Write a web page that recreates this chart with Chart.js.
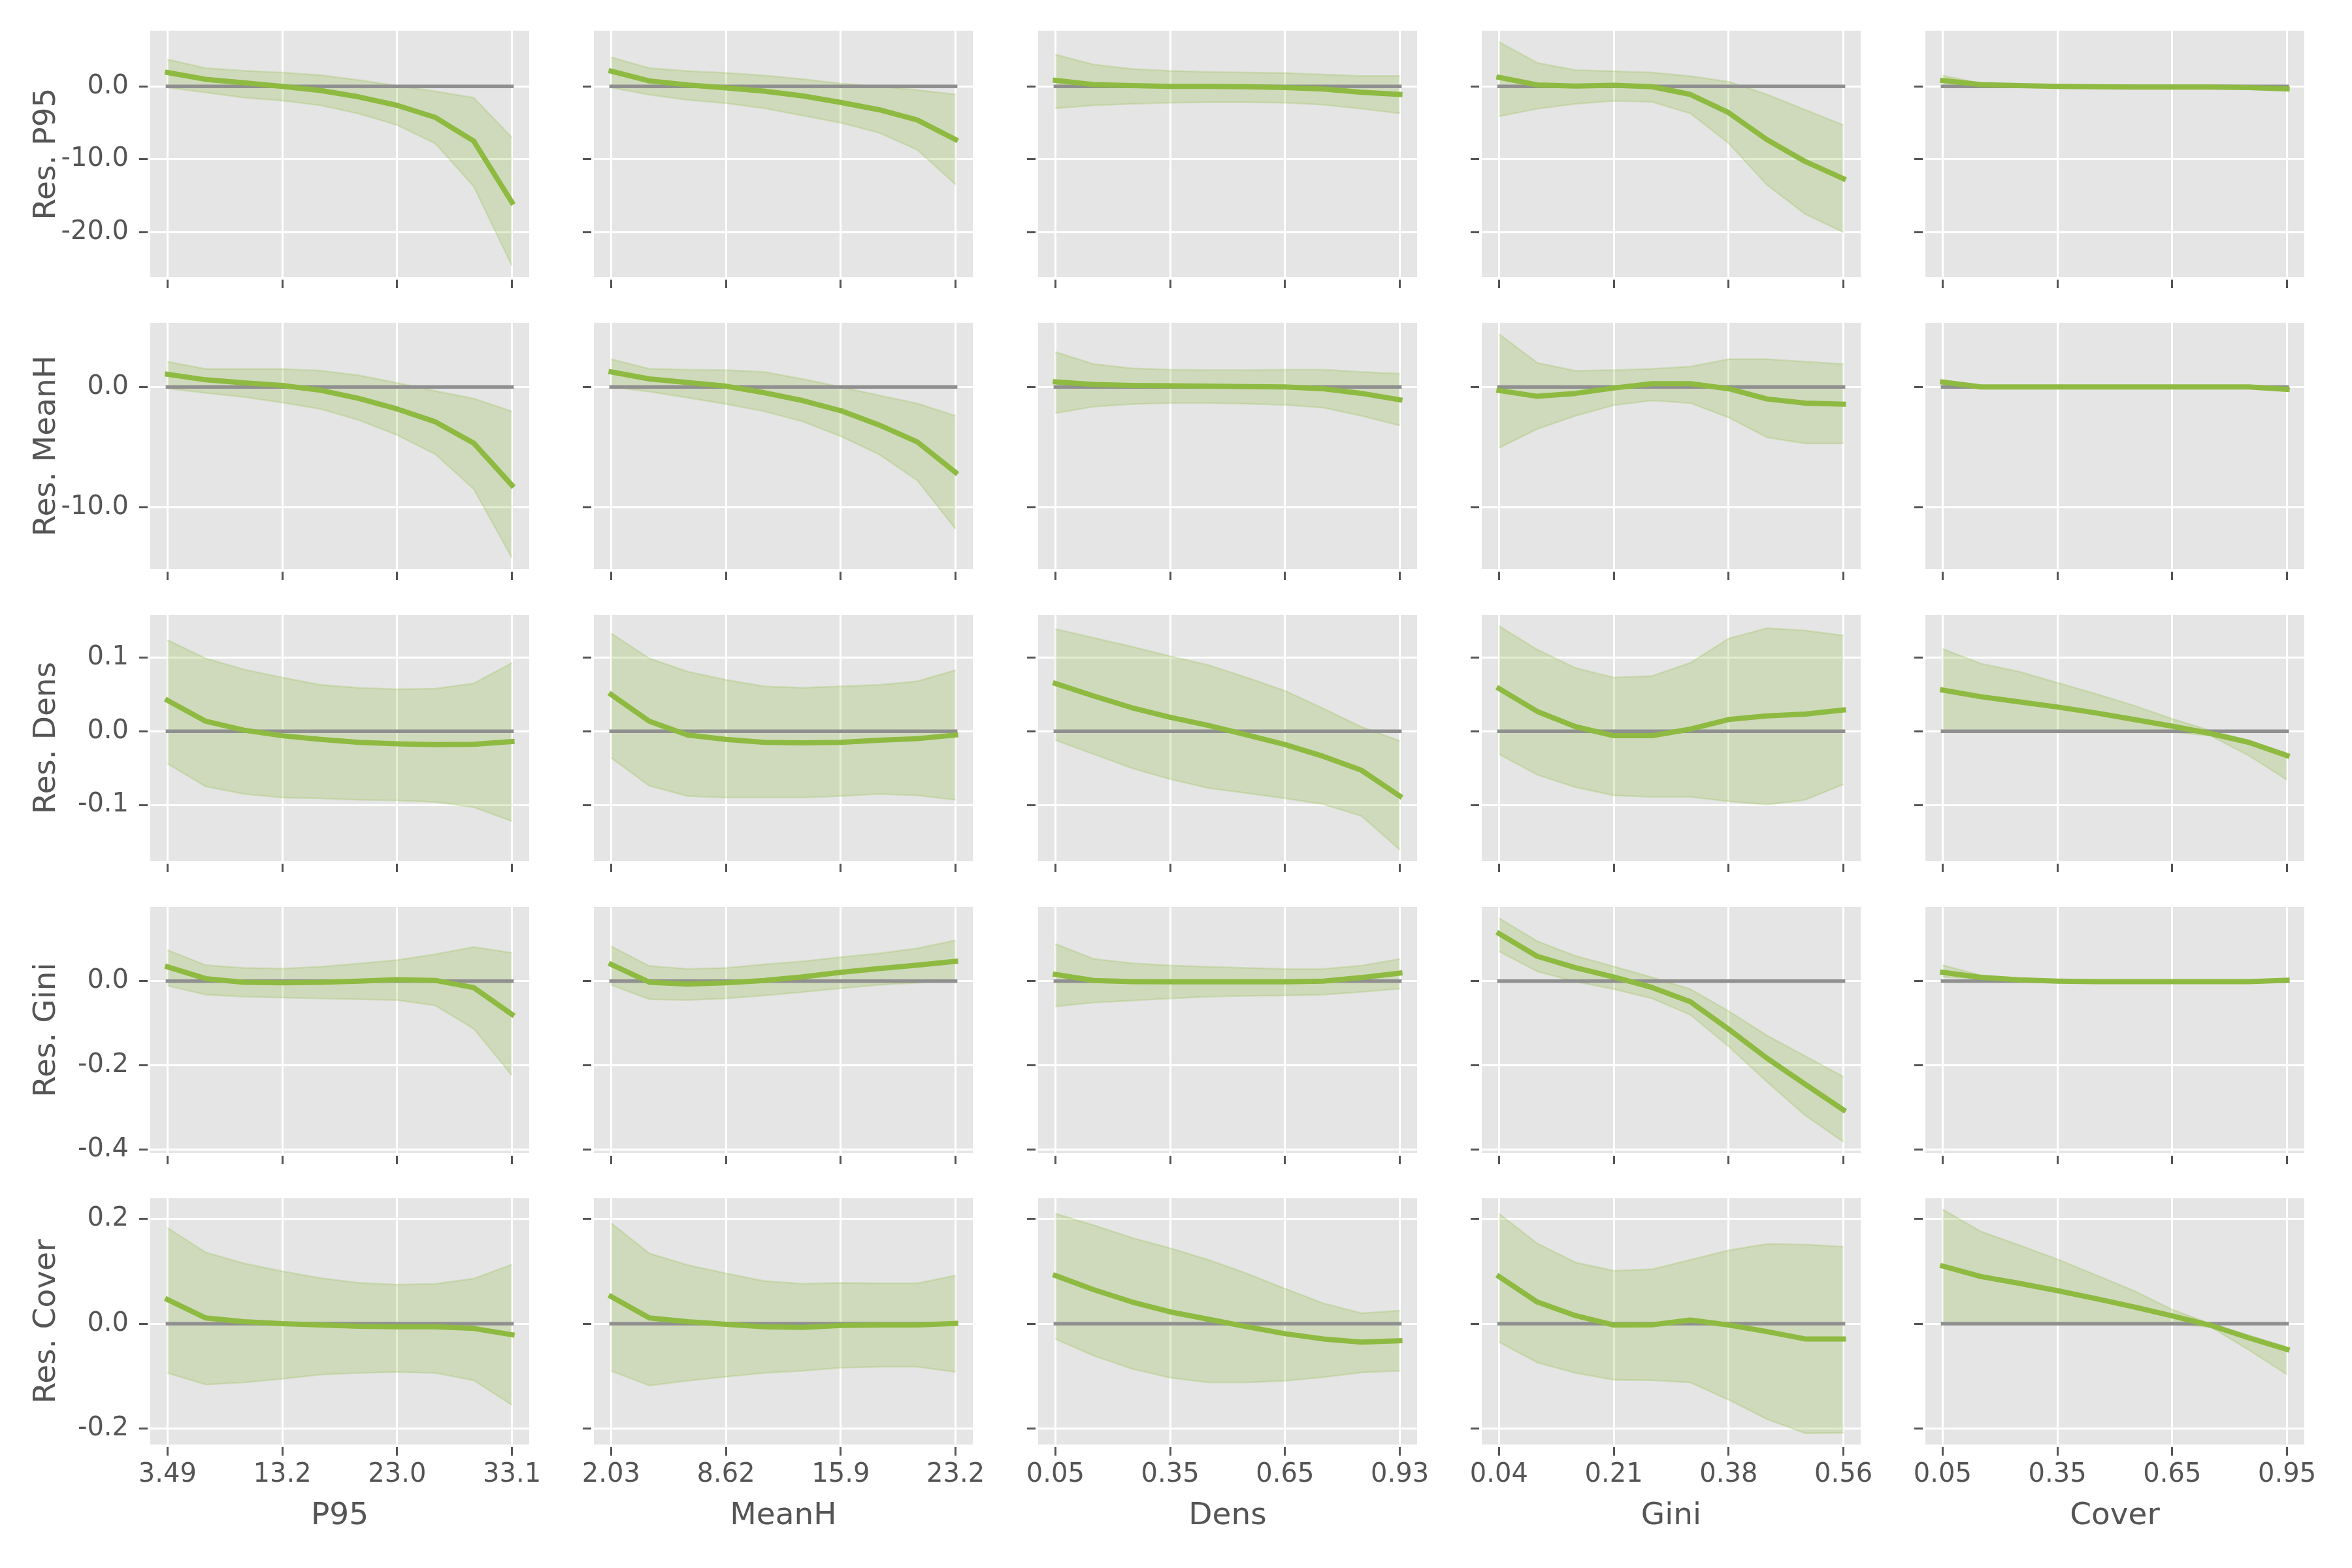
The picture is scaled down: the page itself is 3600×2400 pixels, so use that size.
<!DOCTYPE html>
<html>
<head>
<meta charset="utf-8">
<script src="https://cdn.jsdelivr.net/npm/chart.js@4.4.1/dist/chart.umd.min.js"></script>
<style>
html, body { margin: 0; padding: 0; background: #ffffff; }
#wrap { position: relative; width: 3600px; height: 2400px; overflow: hidden; background: #ffffff; }
#wrap canvas { position: absolute; }
</style>
</head>
<body>
<div id="wrap"></div>
<script>
// ---------- labels ----------
const predictors = ["P95", "MeanH", "Dens", "Gini", "Cover"];
const responses = ["Res. P95", "Res. MeanH", "Res. Dens", "Res. Gini", "Res. Cover"];
const xTickIndex = [0, 3, 6, 9];
const xTickLabels = [
  ["3.49", "13.2", "23.0", "33.1"],
  ["2.03", "8.62", "15.9", "23.2"],
  ["0.05", "0.35", "0.65", "0.93"],
  ["0.04", "0.21", "0.38", "0.56"],
  ["0.05", "0.35", "0.65", "0.95"]
];
const yTickValues = [[0, -10, -20], [0, -10], [0.1, 0, -0.1], [0, -0.2, -0.4], [0.2, 0, -0.2]];
const yTickLabels = [["0.0", "-10.0", "-20.0"], ["0.0", "-10.0"], ["0.1", "0.0", "-0.1"], ["0.0", "-0.2", "-0.4"], ["0.2", "0.0", "-0.2"]];

// ---------- data (one sub-array per predictor: P95, MeanH, Dens, Gini, Cover) ----------
const resP95Mean = [
  [1.9, 0.97, 0.5, 0.0, -0.56, -1.44, -2.6, -4.26, -7.5, -15.9],
  [2.1, 0.75, 0.2, -0.2, -0.65, -1.3, -2.2, -3.2, -4.6, -7.3],
  [0.84, 0.25, 0.1, 0.0, 0.0, -0.05, -0.15, -0.35, -0.8, -1.1],
  [1.24, 0.2, 0.05, 0.15, -0.05, -1.1, -3.6, -7.3, -10.3, -12.65],
  [0.8, 0.25, 0.1, 0.0, -0.05, -0.1, -0.1, -0.1, -0.15, -0.35]
];
const resP95Upper = [
  [3.7, 2.5, 2.15, 1.9, 1.54, 0.87, 0.1, -0.67, -1.54, -7.0],
  [4.0, 2.5, 2.1, 1.85, 1.5, 1.0, 0.4, 0.0, -0.5, -1.1],
  [4.37, 3.0, 2.4, 2.13, 2.0, 1.9, 1.84, 1.64, 1.44, 1.44],
  [6.1, 3.23, 2.23, 2.08, 1.9, 1.4, 0.65, -1.1, -3.2, -5.3],
  [1.5, 0.4, 0.2, 0.1, 0.05, 0.0, 0.0, 0.0, 0.0, -0.1]
];
const resP95Lower = [
  [-0.15, -0.82, -1.54, -1.95, -2.6, -3.74, -5.3, -7.85, -13.7, -24.6],
  [-0.15, -1.15, -1.85, -2.3, -3.0, -4.0, -5.0, -6.35, -8.7, -13.45],
  [-3.0, -2.6, -2.4, -2.23, -2.18, -2.18, -2.23, -2.5, -3.08, -3.7],
  [-4.1, -3.08, -2.4, -2.0, -2.13, -3.7, -7.8, -13.5, -17.5, -20.0],
  [0.1, 0.05, -0.05, -0.1, -0.15, -0.2, -0.2, -0.2, -0.25, -0.55]
];

const resMeanHMean = [
  [1.05, 0.59, 0.34, 0.12, -0.28, -0.96, -1.83, -2.9, -4.67, -8.17],
  [1.25, 0.66, 0.36, 0.06, -0.48, -1.13, -1.97, -3.16, -4.57, -7.1],
  [0.42, 0.2, 0.12, 0.09, 0.06, 0.03, 0.0, -0.15, -0.54, -1.07],
  [-0.3, -0.78, -0.54, -0.09, 0.27, 0.27, -0.15, -1.0, -1.34, -1.43],
  [0.4, 0.0, 0.0, 0.0, 0.0, 0.0, 0.0, 0.0, 0.0, -0.2]
];
const resMeanHUpper = [
  [2.1, 1.49, 1.49, 1.49, 1.36, 0.96, 0.34, -0.34, -0.96, -2.04],
  [2.3, 1.5, 1.43, 1.4, 1.25, 0.66, 0.0, -0.7, -1.37, -2.4],
  [2.9, 1.9, 1.55, 1.43, 1.4, 1.4, 1.43, 1.43, 1.25, 1.1],
  [4.4, 2.0, 1.34, 1.4, 1.5, 1.7, 2.3, 2.3, 2.1, 1.9],
  [0.5, 0.1, 0.05, 0.05, 0.05, 0.05, 0.05, 0.05, 0.05, -0.05]
];
const resMeanHLower = [
  [-0.12, -0.5, -0.84, -1.3, -1.83, -2.76, -4.0, -5.6, -8.48, -14.2],
  [0.0, -0.4, -0.9, -1.43, -2.03, -2.87, -4.1, -5.6, -7.76, -11.8],
  [-2.18, -1.64, -1.43, -1.34, -1.34, -1.4, -1.5, -1.73, -2.4, -3.2],
  [-5.07, -3.5, -2.4, -1.52, -1.13, -1.34, -2.54, -4.2, -4.7, -4.7],
  [0.2, -0.1, -0.1, -0.05, -0.05, -0.05, -0.05, -0.05, -0.1, -0.35]
];

const resDensMean = [
  [0.042, 0.0137, 0.0015, -0.006, -0.011, -0.015, -0.017, -0.018, -0.0176, -0.014],
  [0.050, 0.0137, -0.005, -0.011, -0.015, -0.0156, -0.015, -0.012, -0.010, -0.005],
  [0.065, 0.048, 0.032, 0.019, 0.008, -0.005, -0.018, -0.034, -0.053, -0.088],
  [0.058, 0.027, 0.0063, -0.006, -0.006, 0.003, 0.016, 0.021, 0.0234, 0.029],
  [0.056, 0.047, 0.040, 0.033, 0.025, 0.016, 0.007, -0.003, -0.015, -0.033]
];
const resDensUpper = [
  [0.124, 0.099, 0.084, 0.073, 0.063, 0.059, 0.057, 0.058, 0.065, 0.093],
  [0.133, 0.099, 0.081, 0.070, 0.061, 0.059, 0.061, 0.063, 0.068, 0.083],
  [0.139, 0.127, 0.115, 0.102, 0.090, 0.073, 0.055, 0.031, 0.006, -0.013],
  [0.143, 0.111, 0.086, 0.073, 0.075, 0.093, 0.126, 0.140, 0.137, 0.130],
  [0.112, 0.092, 0.081, 0.066, 0.051, 0.035, 0.017, 0.001, -0.013, -0.030]
];
const resDensLower = [
  [-0.044, -0.075, -0.085, -0.090, -0.091, -0.093, -0.094, -0.096, -0.103, -0.122],
  [-0.036, -0.074, -0.088, -0.090, -0.090, -0.090, -0.088, -0.085, -0.087, -0.093],
  [-0.012, -0.031, -0.050, -0.065, -0.077, -0.084, -0.091, -0.099, -0.115, -0.161],
  [-0.031, -0.059, -0.076, -0.087, -0.089, -0.089, -0.095, -0.0995, -0.093, -0.072],
  [-0.001, -0.001, -0.001, -0.001, -0.001, -0.001, -0.001, -0.006, -0.033, -0.066]
];

const resGiniMean = [
  [0.034, 0.006, -0.0026, -0.004, -0.0026, 0.0, 0.0034, 0.0017, -0.0153, -0.079],
  [0.040, -0.0026, -0.007, -0.004, 0.0017, 0.010, 0.021, 0.030, 0.038, 0.047],
  [0.016, 0.0017, -0.001, -0.0017, -0.0017, -0.0017, -0.0017, 0.0, 0.0085, 0.019],
  [0.113, 0.059, 0.032, 0.010, -0.015, -0.049, -0.114, -0.183, -0.245, -0.306],
  [0.021, 0.009, 0.003, 0.0, -0.001, -0.001, -0.001, -0.001, -0.001, 0.002]
];
const resGiniUpper = [
  [0.074, 0.038, 0.0315, 0.030, 0.034, 0.042, 0.050, 0.064, 0.081, 0.067],
  [0.083, 0.036, 0.029, 0.0315, 0.040, 0.047, 0.057, 0.066, 0.078, 0.097],
  [0.0885, 0.053, 0.0426, 0.0374, 0.034, 0.0315, 0.029, 0.029, 0.037, 0.053],
  [0.150, 0.095, 0.060, 0.035, 0.009, -0.019, -0.071, -0.129, -0.178, -0.227],
  [0.038, 0.014, 0.007, 0.004, 0.002, 0.002, 0.002, 0.002, 0.002, 0.004]
];
const resGiniLower = [
  [-0.011, -0.032, -0.037, -0.039, -0.041, -0.043, -0.045, -0.058, -0.113, -0.224],
  [-0.009, -0.043, -0.045, -0.041, -0.034, -0.026, -0.017, -0.009, -0.004, 0.0],
  [-0.060, -0.051, -0.046, -0.041, -0.037, -0.035, -0.034, -0.032, -0.0255, -0.018],
  [0.071, 0.023, -0.001, -0.019, -0.041, -0.080, -0.155, -0.239, -0.319, -0.382],
  [0.010, 0.005, 0.0, -0.003, -0.004, -0.004, -0.004, -0.004, -0.004, 0.0]
];

const resCoverMean = [
  [0.046, 0.011, 0.0038, 0.0, -0.0024, -0.0047, -0.0057, -0.0057, -0.009, -0.021],
  [0.052, 0.011, 0.0038, -0.001, -0.0057, -0.007, -0.0033, -0.0024, -0.0024, 0.0005],
  [0.092, 0.065, 0.0415, 0.0226, 0.0085, -0.0057, -0.019, -0.029, -0.035, -0.0325],
  [0.090, 0.0415, 0.0155, -0.0024, -0.002, 0.007, -0.0024, -0.015, -0.029, -0.029],
  [0.110, 0.090, 0.077, 0.063, 0.048, 0.032, 0.015, -0.003, -0.027, -0.049]
];
const resCoverUpper = [
  [0.183, 0.136, 0.115, 0.100, 0.087, 0.078, 0.0745, 0.076, 0.086, 0.113],
  [0.192, 0.134, 0.112, 0.096, 0.0815, 0.076, 0.078, 0.077, 0.077, 0.092],
  [0.210, 0.188, 0.164, 0.144, 0.122, 0.096, 0.067, 0.039, 0.020, 0.025],
  [0.210, 0.153, 0.117, 0.101, 0.104, 0.122, 0.140, 0.152, 0.151, 0.147],
  [0.218, 0.176, 0.150, 0.123, 0.093, 0.063, 0.027, 0.0, -0.022, -0.045]
];
const resCoverLower = [
  [-0.094, -0.116, -0.112, -0.105, -0.097, -0.094, -0.092, -0.094, -0.108, -0.155],
  [-0.090, -0.118, -0.109, -0.101, -0.094, -0.090, -0.084, -0.082, -0.082, -0.092],
  [-0.029, -0.061, -0.086, -0.103, -0.112, -0.112, -0.109, -0.102, -0.093, -0.090],
  [-0.035, -0.074, -0.094, -0.107, -0.108, -0.112, -0.145, -0.182, -0.209, -0.208],
  [-0.001, -0.001, -0.001, -0.001, -0.001, -0.001, -0.001, -0.006, -0.050, -0.097]
];

// ---------- assembly ----------
const meanRows = [resP95Mean, resMeanHMean, resDensMean, resGiniMean, resCoverMean];
const upperRows = [resP95Upper, resMeanHUpper, resDensUpper, resGiniUpper, resCoverUpper];
const lowerRows = [resP95Lower, resMeanHLower, resDensLower, resGiniLower, resCoverLower];

// layout (pixels)
const colLeft = [230, 909, 1589, 2268, 2947];
const rowTop = [47, 494, 941, 1388, 1834];
const PW = 580, PH = 377, PT = 10, PR = 32;

const FONT = "'DejaVu Sans', 'Liberation Sans', sans-serif";
const GREEN = '#8EBA42';
const BAND = 'rgba(142,186,66,0.25)';
const TEXT = '#555555';

function rowRange(r) {
  const all = [0];
  for (let c = 0; c < 5; c++) {
    all.push(...meanRows[r][c], ...upperRows[r][c], ...lowerRows[r][c]);
  }
  const mn = Math.min(...all), mx = Math.max(...all);
  const pad = 0.05 * (mx - mn);
  return [mn - pad, mx + pad];
}

const panelBg = {
  id: 'panelBg',
  beforeDraw(chart) {
    const { ctx, chartArea: a } = chart;
    ctx.save();
    ctx.fillStyle = '#E5E5E5';
    ctx.fillRect(a.left, a.top, a.right - a.left, a.bottom - a.top);
    ctx.restore();
  },
  afterDraw(chart) {
    const { ctx, chartArea: a } = chart;
    ctx.save();
    ctx.fillStyle = '#ffffff';
    ctx.fillRect(a.left - 4, a.top, 4, a.bottom - a.top + 4);
    ctx.fillRect(a.left - 4, a.bottom, a.right - a.left + 4, 4);
    ctx.restore();
  }
};

const wrap = document.getElementById('wrap');
const toXY = arr => arr.map((v, i) => ({ x: i, y: v }));

for (let r = 0; r < 5; r++) {
  const [yMin, yMax] = rowRange(r);
  for (let c = 0; c < 5; c++) {
    const AL = c === 0 ? 230 : 50;
    const AB = r === 4 ? 2400 - (rowTop[4] + PH) : 40;
    const cv = document.createElement('canvas');
    const w = AL + PW + PR, h = PT + PH + AB;
    cv.width = w; cv.height = h;
    cv.style.width = w + 'px'; cv.style.height = h + 'px';
    cv.style.left = (colLeft[c] - AL) + 'px';
    cv.style.top = (rowTop[r] - PT) + 'px';
    wrap.appendChild(cv);

    new Chart(cv, {
      type: 'line',
      data: {
        datasets: [
          { data: toXY(meanRows[r][c]), borderColor: GREEN, borderWidth: 8, pointRadius: 0, fill: false, borderCapStyle: 'square', borderJoinStyle: 'round' },
          { data: [{ x: 0, y: 0 }, { x: 9, y: 0 }], borderColor: '#909090', borderWidth: 5.5, pointRadius: 0, fill: false, borderCapStyle: 'square' },
          { data: toXY(upperRows[r][c]), borderColor: BAND, borderWidth: 2.5, pointRadius: 0, fill: '+1', backgroundColor: BAND },
          { data: toXY(lowerRows[r][c]), borderColor: BAND, borderWidth: 2.5, pointRadius: 0, fill: false }
        ]
      },
      options: {
        responsive: false,
        animation: false,
        devicePixelRatio: 1,
        layout: { padding: { top: PT, right: PR, left: 0, bottom: 0 } },
        plugins: { legend: { display: false }, tooltip: { enabled: false } },
        elements: { line: { tension: 0 } },
        scales: {
          x: {
            type: 'linear', min: -0.45, max: 9.45,
            afterBuildTicks: s => { s.ticks = xTickIndex.map(v => ({ value: v })); },
            afterFit: s => { s.height = AB; s.paddingLeft = 0; s.paddingRight = 0; },
            ticks: {
              display: r === 4, autoSkip: false, maxRotation: 0, padding: 6,
              color: TEXT, font: { family: FONT, size: 40 },
              callback: v => xTickLabels[c][xTickIndex.indexOf(v)]
            },
            grid: { color: '#ffffff', lineWidth: 3, drawTicks: true, tickLength: 17, tickColor: TEXT, tickWidth: 3 },
            border: { display: false },
            title: { display: r === 4, text: predictors[c], color: TEXT, font: { family: FONT, size: 47 }, padding: { top: 0, bottom: 51 } }
          },
          y: {
            type: 'linear', min: yMin, max: yMax,
            afterBuildTicks: s => { s.ticks = yTickValues[r].map(v => ({ value: v })); },
            afterFit: s => { s.width = AL; s.paddingTop = 0; s.paddingBottom = 0; },
            ticks: {
              display: c === 0, autoSkip: false, padding: 16,
              color: TEXT, font: { family: FONT, size: 40 },
              callback: v => yTickLabels[r][yTickValues[r].indexOf(v)]
            },
            grid: { color: '#ffffff', lineWidth: 3, drawTicks: true, tickLength: 17, tickColor: TEXT, tickWidth: 3 },
            border: { display: false },
            title: { display: c === 0, text: responses[r], color: TEXT, font: { family: FONT, size: 47 }, padding: { top: 44, bottom: 0 } }
          }
        }
      },
      plugins: [panelBg]
    });
  }
}
</script>
</body>
</html>
